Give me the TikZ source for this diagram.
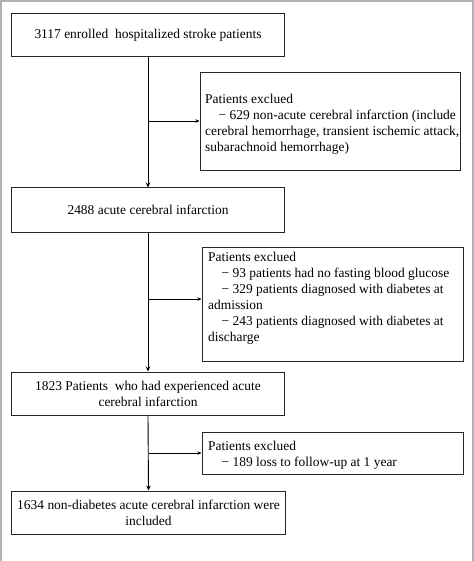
\documentclass[tikz,border=0pt]{standalone}
\usepackage{fontspec}
\setmainfont{Liberation Serif}
\usetikzlibrary{arrows.meta}
\begin{document}
\begin{tikzpicture}[x=1bp,y=-1bp,
  box/.style={draw=black!85,line width=1bp,minimum width=272bp,minimum height=43bp,inner sep=0pt,align=center,font=\fontsize{13.5}{16}\selectfont},
  exbox/.style={draw=black!85,line width=1bp,inner sep=0pt},
  extext/.style={inner sep=0pt,anchor=north west,align=left,font=\fontsize{13.5}{16}\selectfont},
  flow/.style={line width=0.9bp,-{Stealth[length=5bp,width=4.5bp]}},
  branch/.style={line width=0.8bp,-{Stealth[length=4bp,width=3.5bp]}}]
\useasboundingbox (0,0) rectangle (474,561);
\fill[white] (0,0) rectangle (474,561);
\draw[black!30,line width=2.5bp] (1.2,561) -- (1.2,1.2) -- (472.8,1.2) -- (472.8,561);
% main boxes
\node[box] (b1) at (148,35.5) {3117 enrolled\ \ hospitalized stroke patients};
\node[box,minimum height=44bp] (b2) at (148,210) {2488 acute cerebral infarction};
\node[box] (b3) at (148,393.5) {1823 Patients\ \ who had experienced acute\\cerebral infarction};
\node[box,minimum width=273bp] (b4) at (148.5,512.5) {1634 non-diabetes acute cerebral infarction were\\included};
% exclusion boxes
\node[exbox,minimum width=260bp,minimum height=98bp] (e1) at (330,122) {};
\node[extext] (t1) at (205,94) {Patients exclued\\\hspace*{1em}− 629 non-acute cerebral infarction (include\\cerebral hemorrhage, transient ischemic attack,\\subarachnoid hemorrhage)};
\node[exbox,minimum width=261bp,minimum height=114bp] (e2) at (332.5,304) {};
\node[extext] (t2) at (208,252) {Patients exclued\\\hspace*{1em}− 93 patients had no fasting blood glucose\\\hspace*{1em}− 329 patients diagnosed with diabetes at\\admission\\\hspace*{1em}− 243 patients diagnosed with diabetes at\\discharge};
\node[exbox,minimum width=261bp,minimum height=42bp] (e3) at (332.5,453) {};
\node[extext] (t3) at (208,441) {Patients exclued\\\hspace*{1em}− 189 loss to follow-up at 1 year};
% connectors
\draw[flow] (b1.south) -- (b2.north);
\draw[flow] (b2.south) -- (b3.north);
\draw[flow] (b3.south) -- (b4.north);
\coordinate (j1) at (148,121);
\coordinate (j2) at (148,299);
\coordinate (j3) at (149,453);
\draw[branch] (j1) -- (j1 -| e1.west);
\draw[branch] (j2) -- (j2 -| e2.west);
\draw[branch] (j3) -- (j3 -| e3.west);
\end{tikzpicture}
\end{document}
